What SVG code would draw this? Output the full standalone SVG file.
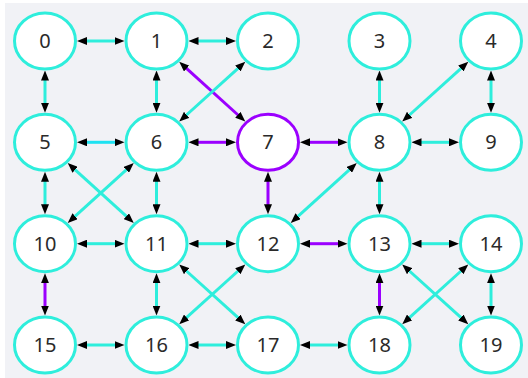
<svg xmlns="http://www.w3.org/2000/svg" width="528" height="378" viewBox="0 0 528 378">
<style>
.n ellipse{fill:#fff;stroke:#2eeedc;stroke-width:3}
.n.p ellipse{stroke:#9b00ff}
.n text{font-family:"Noto Sans","Open Sans",sans-serif;font-size:20px;fill:#2a2a2a;text-anchor:middle}
#edges line{stroke:#2eeedc;stroke-width:3;marker-start:url(#ah);marker-end:url(#ah)}
#edges line.p{stroke:#9b00ff}
#edges line.b{stroke:#1ee2f2}
</style>
<defs>
<marker id="ah" markerUnits="userSpaceOnUse" markerWidth="10" markerHeight="8" viewBox="0 0 10 8" refX="1" refY="4" orient="auto-start-reverse">
<path d="M0,0 L10,4 L0,8 z" fill="#000"/>
</marker>
</defs>
<rect x="5" y="3" width="523" height="375" fill="#f1f2f6"/>
<g id="edges">
<line x1="86" y1="41" x2="115.5" y2="41"/>
<line x1="197.5" y1="41" x2="227" y2="41"/>
<line class="b" x1="86" y1="142.3" x2="115.5" y2="142.3"/>
<line class="p" x1="197.5" y1="142.3" x2="227" y2="142.3"/>
<line class="p" x1="309" y1="142.3" x2="338.5" y2="142.3"/>
<line x1="420.5" y1="142.3" x2="450" y2="142.3"/>
<line x1="86" y1="243.7" x2="115.5" y2="243.7"/>
<line x1="197.5" y1="243.7" x2="227" y2="243.7"/>
<line class="p" x1="309" y1="243.7" x2="338.5" y2="243.7"/>
<line x1="420.5" y1="243.7" x2="450" y2="243.7"/>
<line x1="86" y1="345" x2="115.5" y2="345"/>
<line x1="197.5" y1="345" x2="227" y2="345"/>
<line x1="309" y1="345" x2="338.5" y2="345"/>
<line x1="45" y1="79.5" x2="45" y2="103.8"/>
<line x1="156.5" y1="79.5" x2="156.5" y2="103.8"/>
<line x1="379.5" y1="79.5" x2="379.5" y2="103.8"/>
<line x1="491" y1="79.5" x2="491" y2="103.8"/>
<line x1="45" y1="180.8" x2="45" y2="205.2"/>
<line x1="156.5" y1="180.8" x2="156.5" y2="205.2"/>
<line class="p" x1="268" y1="180.8" x2="268" y2="205.2"/>
<line x1="379.5" y1="180.8" x2="379.5" y2="205.2"/>
<line class="p" x1="45" y1="282.2" x2="45" y2="306.5"/>
<line x1="156.5" y1="282.2" x2="156.5" y2="306.5"/>
<line class="p" x1="379.5" y1="282.2" x2="379.5" y2="306.5"/>
<line x1="491" y1="282.2" x2="491" y2="306.5"/>
<line class="p" x1="185.9" y1="67.8" x2="238.6" y2="115.5"/>
<line x1="238.6" y1="67.8" x2="185.9" y2="115.5"/>
<line x1="461.6" y1="67.8" x2="408.9" y2="115.5"/>
<line x1="74.4" y1="169.1" x2="127.1" y2="216.9"/>
<line x1="127.1" y1="169.1" x2="74.4" y2="216.9"/>
<line x1="350.1" y1="169.1" x2="297.4" y2="216.9"/>
<line x1="185.9" y1="270.5" x2="238.6" y2="318.2"/>
<line x1="238.6" y1="270.5" x2="185.9" y2="318.2"/>
<line x1="408.9" y1="270.5" x2="461.6" y2="318.2"/>
<line x1="461.6" y1="270.5" x2="408.9" y2="318.2"/>
</g>
<g id="n0" class="n"><ellipse cx="45" cy="41" rx="30.5" ry="28"/><text x="45" y="48">0</text></g>
<g id="n1" class="n"><ellipse cx="156.5" cy="41" rx="30.5" ry="28"/><text x="156.5" y="48">1</text></g>
<g id="n2" class="n"><ellipse cx="268" cy="41" rx="30.5" ry="28"/><text x="268" y="48">2</text></g>
<g id="n3" class="n"><ellipse cx="379.5" cy="41" rx="30.5" ry="28"/><text x="379.5" y="48">3</text></g>
<g id="n4" class="n"><ellipse cx="491" cy="41" rx="30.5" ry="28"/><text x="491" y="48">4</text></g>
<g id="n5" class="n"><ellipse cx="45" cy="142.3" rx="30.5" ry="28"/><text x="45" y="149.3">5</text></g>
<g id="n6" class="n"><ellipse cx="156.5" cy="142.3" rx="30.5" ry="28"/><text x="156.5" y="149.3">6</text></g>
<g id="n7" class="n p"><ellipse cx="268" cy="142.3" rx="30.5" ry="28"/><text x="268" y="149.3">7</text></g>
<g id="n8" class="n"><ellipse cx="379.5" cy="142.3" rx="30.5" ry="28"/><text x="379.5" y="149.3">8</text></g>
<g id="n9" class="n"><ellipse cx="491" cy="142.3" rx="30.5" ry="28"/><text x="491" y="149.3">9</text></g>
<g id="n10" class="n"><ellipse cx="45" cy="243.7" rx="30.5" ry="28"/><text x="45" y="250.7">10</text></g>
<g id="n11" class="n"><ellipse cx="156.5" cy="243.7" rx="30.5" ry="28"/><text x="156.5" y="250.7">11</text></g>
<g id="n12" class="n"><ellipse cx="268" cy="243.7" rx="30.5" ry="28"/><text x="268" y="250.7">12</text></g>
<g id="n13" class="n"><ellipse cx="379.5" cy="243.7" rx="30.5" ry="28"/><text x="379.5" y="250.7">13</text></g>
<g id="n14" class="n"><ellipse cx="491" cy="243.7" rx="30.5" ry="28"/><text x="491" y="250.7">14</text></g>
<g id="n15" class="n"><ellipse cx="45" cy="345" rx="30.5" ry="28"/><text x="45" y="352">15</text></g>
<g id="n16" class="n"><ellipse cx="156.5" cy="345" rx="30.5" ry="28"/><text x="156.5" y="352">16</text></g>
<g id="n17" class="n"><ellipse cx="268" cy="345" rx="30.5" ry="28"/><text x="268" y="352">17</text></g>
<g id="n18" class="n"><ellipse cx="379.5" cy="345" rx="30.5" ry="28"/><text x="379.5" y="352">18</text></g>
<g id="n19" class="n"><ellipse cx="491" cy="345" rx="30.5" ry="28"/><text x="491" y="352">19</text></g>
</svg>
